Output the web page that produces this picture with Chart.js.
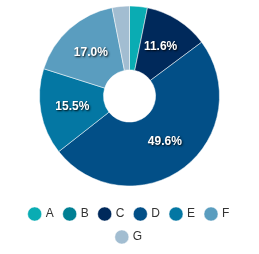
<!DOCTYPE html>
<html>
<head>
<meta charset="utf-8">
<script src="https://cdn.jsdelivr.net/npm/chart.js@4"></script>
<style>
  html, body { margin: 0; padding: 0; background: #fff; }
  #wrap { width: 259px; height: 254px; position: relative; }
</style>
</head>
<body>
<div id="wrap"><canvas id="pieChart"></canvas></div>
<script>
  const categories = ['A', 'B', 'C', 'D', 'E', 'F', 'G'];
  const shares = [3.2, 0, 11.6, 49.6, 15.5, 17.0, 3.1];
  const sliceColors = ['#0aacb3', '#007f93', '#00295b', '#024f87', '#0477a3', '#5a9dbf', '#a2bdd1'];

  // draws the percent on each slice big enough to hold it
  const sliceLabels = {
    id: 'sliceLabels',
    afterDatasetsDraw(chart) {
      const ctx = chart.ctx;
      const meta = chart.getDatasetMeta(0);
      ctx.save();
      ctx.font = 'bold 12px "Liberation Sans", Arial, sans-serif';
      ctx.textAlign = 'center';
      ctx.textBaseline = 'middle';
      ctx.fillStyle = '#fff';
      ctx.shadowColor = 'rgba(0,0,0,0.9)';
      ctx.shadowBlur = 2;
      ctx.shadowOffsetX = 1;
      ctx.shadowOffsetY = 1;
      meta.data.forEach((arc, i) => {
        if (shares[i] < 5) return;
        const pos = arc.tooltipPosition();
        ctx.fillText(shares[i].toFixed(1) + '%', pos.x, pos.y);
      });
      ctx.restore();
    }
  };

  const ctx = document.getElementById('pieChart').getContext('2d');
  new Chart(ctx, {
    type: 'doughnut',
    data: {
      labels: categories,
      datasets: [{
        data: shares,
        backgroundColor: sliceColors,
        borderColor: '#fff',
        borderWidth: 0.5,
        radius: 90
      }]
    },
    options: {
      responsive: true,
      maintainAspectRatio: false,
      animation: false,
      cutout: '29%',
      layout: { padding: { top: 2, bottom: 1, left: 3, right: 3 } },
      plugins: {
        legend: {
          position: 'bottom',
          // empty title only used as a spacer above the items
          title: { display: true, text: '', padding: 0, font: { size: 7, lineHeight: 1 } },
          labels: {
            usePointStyle: true,
            pointStyle: 'circle',
            boxWidth: 10,
            boxHeight: 10,
            color: '#333',
            padding: 11,
            font: { size: 12, family: '"Liberation Sans", Arial, sans-serif' }
          }
        },
        tooltip: { enabled: false }
      }
    },
    plugins: [sliceLabels]
  });
</script>
</body>
</html>
